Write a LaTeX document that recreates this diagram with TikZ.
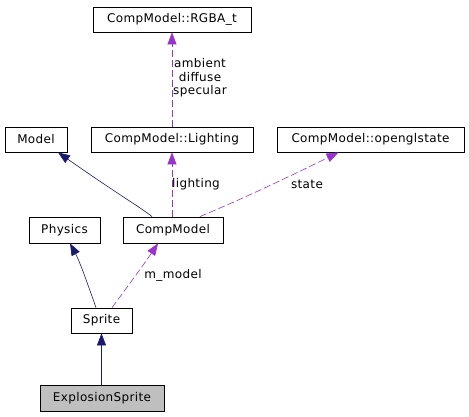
\documentclass[tikz,border=0pt]{standalone}
\usepackage{fontspec}
\usetikzlibrary{arrows.meta}
\newfontfamily\dvs[LetterSpace=3]{DejaVu Sans}
\definecolor{navyedge}{HTML}{191970}
\definecolor{purpedge}{HTML}{9A32CD}
\definecolor{boxgray}{HTML}{BFBFBF}
\tikzset{
  cls/.style={draw=black, line width=0.8pt, rectangle, inner sep=0pt, fill=white,
    font={\dvs\fontsize{12}{13.5}\selectfont}, text=black},
  lbl/.style={inner sep=0pt, font={\dvs\fontsize{12}{13.5}\selectfont}, text=black, align=center},
  inh/.style={draw=navyedge, line width=0.6pt, -{Triangle[length=12pt,width=9pt]}},
  use/.style={draw=purpedge, line width=0.6pt, dash pattern=on 7pt off 3pt,
    -{Triangle[length=12pt,width=9pt,color=purpedge]}},
}
\begin{document}
\begin{tikzpicture}[x=1pt,y=-1pt]
\useasboundingbox (0,0) rectangle (469,416);
\node[cls, minimum width=158pt, minimum height=25pt] (rgba) at (172,19.5) {CompModel::RGBA\_t};
\node[cls, minimum width=62pt, minimum height=25pt] (model) at (36,139.5) {Model};
\node[cls, minimum width=162pt, minimum height=25pt] (light) at (172,139.5) {CompModel::Lighting};
\node[cls, minimum width=187pt, minimum height=25pt] (ogl) at (370.5,139.5) {CompModel::openglstate};
\node[cls, minimum width=71pt, minimum height=26pt] (phys) at (64.5,230) {Physics};
\node[cls, minimum width=100pt, minimum height=26pt] (cm) at (173,230) {CompModel};
\node[cls, minimum width=61pt, minimum height=25pt] (sprite) at (101.5,320.5) {Sprite};
\node[cls, fill=boxgray, minimum width=124pt, minimum height=26pt] (expl) at (102,398) {ExplosionSprite};

\draw[inh] ([xshift=-21pt]cm.north) .. controls (140,207) and (125,199) .. ([xshift=22pt]model.south);
\draw[use] ([xshift=-1pt]cm.north) -- (light.south);
\draw[use] ([xshift=27pt]cm.north) .. controls (215,210) and (250,196) .. ([xshift=-32pt]ogl.south);
\draw[use] (light.north) -- (rgba.south);
\draw[inh] ([xshift=-5.5pt]sprite.north) .. controls (88,285) and (80,262) .. ([xshift=5.5pt]phys.south);
\draw[use] ([xshift=10.5pt]sprite.north) .. controls (122,294) and (140,270) .. ([xshift=-15pt]cm.south);
\draw[inh] ([xshift=-0.5pt]expl.north) -- (sprite.south);

\node[lbl] (l1) at (196,184) {lighting};
\node[lbl] (l2) at (307,184) {state};
\node[lbl] (l3) at (200,78) {ambient\\diffuse\\specular};
\node[lbl] (l4) at (173,275) {m\_model};
\end{tikzpicture}
\end{document}
